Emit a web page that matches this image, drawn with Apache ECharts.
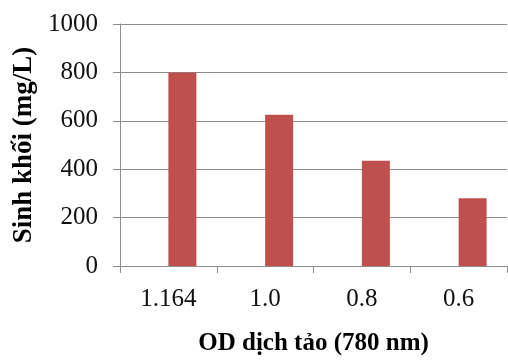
<!DOCTYPE html>
<html><head><meta charset="utf-8">
<script src="https://cdn.jsdelivr.net/npm/echarts@6/dist/echarts.min.js"></script>
<style>html,body{margin:0;padding:0;background:#fff}#c{width:508px;height:361px}</style>
</head><body><div id="c"></div>
<script>
const categories = ['1.164', '1.0', '0.8', '0.6'];
const biomass = [800, 625, 435, 280];
const yTicks = [0, 200, 400, 600, 800, 1000];

const font = '"Liberation Serif", "Times New Roman", serif';
const chart = echarts.init(document.getElementById('c'), null, {renderer: 'canvas'});
chart.setOption({
  animation: false,
  grid: {left: 120, right: 1, top: 24, bottom: 88, containLabel: false},
  xAxis: {
    type: 'category',
    data: categories,
    boundaryGap: true,
    name: 'OD dịch tảo (780 nm)',
    nameLocation: 'middle',
    nameGap: 65,
    nameTextStyle: {fontFamily: font, fontWeight: 'bold', fontSize: 25, color: '#000'},
    axisLine: {lineStyle: {color: '#8c8c8c', width: 1}},
    axisTick: {show: true, alignWithLabel: false, length: 7, lineStyle: {color: '#8c8c8c'}},
    axisLabel: {fontFamily: font, fontSize: 25, color: '#111', margin: 21}
  },
  yAxis: {
    type: 'value',
    min: yTicks[0],
    max: yTicks[yTicks.length - 1],
    interval: 200,
    name: 'Sinh khối (mg/L)',
    nameLocation: 'middle',
    nameGap: 77,
    nameTextStyle: {fontFamily: font, fontWeight: 'bold', fontSize: 27, color: '#000'},
    axisLine: {show: true, lineStyle: {color: '#8c8c8c', width: 1}},
    axisTick: {show: true, length: 7, lineStyle: {color: '#8c8c8c'}},
    axisLabel: {fontFamily: font, fontSize: 25, color: '#111', margin: 22, formatter: v => String(v)},
    splitLine: {show: true, lineStyle: {color: '#8c8c8c', width: 1}}
  },
  series: [
    {type: 'bar', data: categories.map(() => '-'), barWidth: 28, barGap: '0%'},
    {type: 'bar', data: biomass, barWidth: 28, barGap: '0%', itemStyle: {color: '#C0504D'}}
  ]
});
</script></body></html>
